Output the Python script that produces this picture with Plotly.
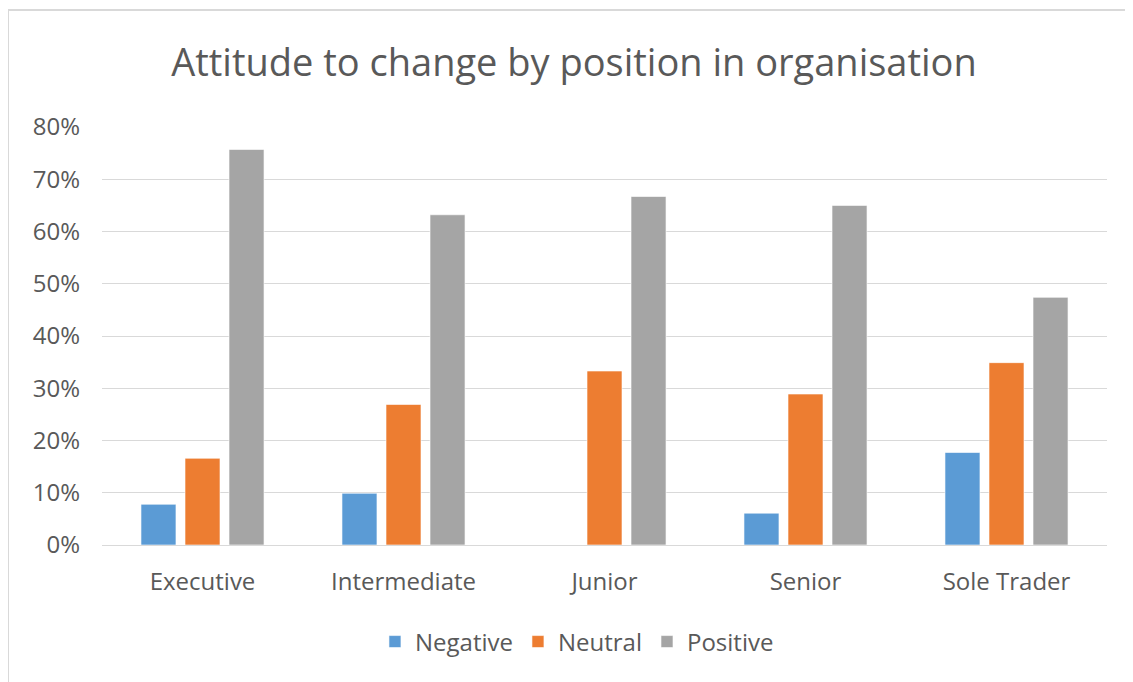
import plotly.graph_objects as go

categories = ["Executive", "Intermediate", "Junior", "Senior", "Sole Trader"]
negative = [0.078, 0.099, 0.0, 0.061, 0.177]
neutral = [0.166, 0.269, 0.333, 0.289, 0.349]
positive = [0.757, 0.632, 0.667, 0.650, 0.474]
y_ticks = [0, 0.1, 0.2, 0.3, 0.4, 0.5, 0.6, 0.7, 0.8]
y_labels = ["0%", "10%", "20%", "30%", "40%", "50%", "60%", "70%", "80%"]

series = [("Negative", negative, "#5b9bd5"),
          ("Neutral", neutral, "#ed7d31"),
          ("Positive", positive, "#a5a5a5")]

FONT = "Open Sans"
TXT = "#595959"
W, H = 1125, 674  # page body has an 8px offset

fig = go.Figure()
for name, vals, col in series:
    fig.add_trace(go.Bar(x=categories, y=vals, name=name,
                         marker=dict(color=col, line=dict(color="rgba(255,255,255,0.6)", width=1))))

fig.update_layout(
    width=W, height=H,
    margin=dict(l=94, r=26, t=119, b=137),
    paper_bgcolor="white", plot_bgcolor="white",
    barmode="group", bargap=0.343, bargroupgap=0.205,
    title=dict(text="Attitude to change by position in organisation",
               x=566 / W, xanchor="center", xref="container",
               y=1 - 55 / H, yanchor="middle", yref="container",
               font=dict(family=FONT, size=38, color=TXT)),
    font=dict(family=FONT, color=TXT),
    showlegend=True,
    legend=dict(orientation="h", x=0.4726, xanchor="center", y=-0.232, yanchor="middle",
                font=dict(family=FONT, size=24, color=TXT), itemwidth=30,
                bgcolor="rgba(0,0,0,0)"),
    xaxis=dict(showgrid=False, showline=False, zeroline=False, ticks="",
               tickfont=dict(family=FONT, size=24, color=TXT), ticklabelstandoff=20),
    yaxis=dict(range=[0, 0.8], tickvals=y_ticks, ticktext=y_labels,
               showgrid=True, gridcolor="#d9d9d9", gridwidth=1,
               zeroline=True, zerolinecolor="#d9d9d9", zerolinewidth=1,
               showline=False, ticks="",
               tickfont=dict(family=FONT, size=24, color=TXT), ticklabelstandoff=21),
    shapes=[dict(type="rect", xref="paper", yref="paper",
                 x0=(0 - 94) / 1005, x1=1.06, y0=-0.4, y1=(537 - 2) / 418,
                 line=dict(color="#d9d9d9", width=2), fillcolor="rgba(0,0,0,0)", layer="below")],
)

fig.write_html("out.html")
